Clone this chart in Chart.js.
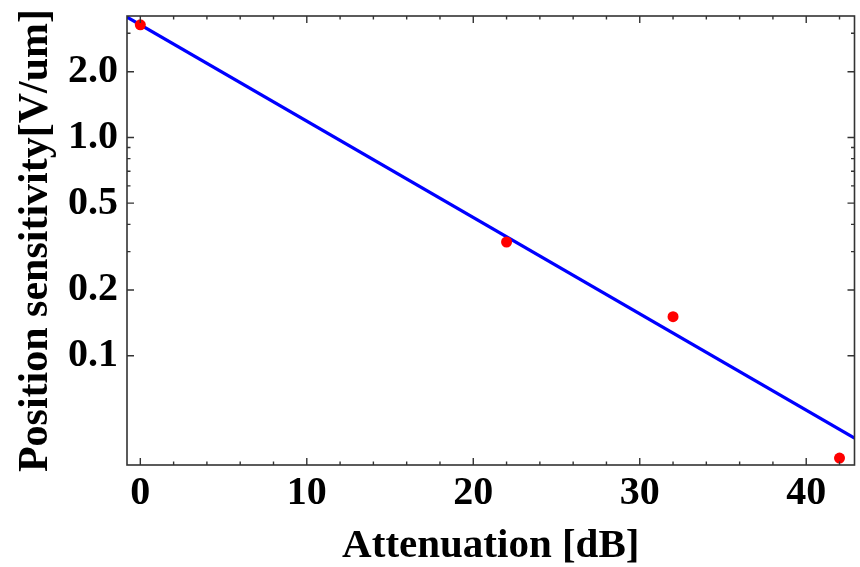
<!DOCTYPE html>
<html>
<head>
<meta charset="utf-8">
<title>Position sensitivity vs attenuation</title>
<script src="https://cdn.jsdelivr.net/npm/chart.js@4/dist/chart.umd.min.js"></script>
<style>
  html, body { margin: 0; padding: 0; background: #fff; }
  #wrap { width: 860px; height: 567px; }
</style>
</head>
<body>
<div id="wrap"><canvas id="sensGraph" width="860" height="567"></canvas></div>
<script>
// measured points (attenuation dB -> sensitivity V/um)
const attenuation = [0, 22, 32, 42]
const sensitivity = [3.28, 0.332, 0.151, 0.034]

// fitted line, end points
const fitX = [-0.8, 42.9]
const fitY = [3.56, 0.042]

const xMajorTicks = [0, 10, 20, 30, 40]
const xMinorTicks = [2, 4, 6, 8, 12, 14, 16, 18, 22, 24, 26, 28, 32, 34, 36, 38, 42]
const yMajorTicks = [0.1, 0.2, 0.5, 1, 2]
const yTickLabels = ['0.1', '0.2', '0.5', '1.0', '2.0']
const yMinorTicks = [0.3, 0.4, 0.6, 0.7, 0.8, 0.9, 3]

const serif = "'Liberation Serif', 'Times New Roman', serif"
const labelFont = { family: serif, size: 40, weight: 'bold', lineHeight: 1 }

// frame box + inward ticks on all four sides
const frameTicks = {
    id: 'frameTicks',
    afterDraw(chart) {
        const ctx = chart.ctx
        const a = chart.chartArea
        const xs = chart.scales.x
        const ys = chart.scales.y
        ctx.save()
        ctx.strokeStyle = '#333'
        ctx.lineWidth = 1.6
        ctx.strokeRect(a.left, a.top, a.right - a.left, a.bottom - a.top)
        ctx.lineWidth = 1.4
        ctx.beginPath()
        function xTick(v, len) {
            const px = xs.getPixelForValue(v)
            ctx.moveTo(px, a.bottom); ctx.lineTo(px, a.bottom - len)
            ctx.moveTo(px, a.top); ctx.lineTo(px, a.top + len)
        }
        function yTick(v, len) {
            const py = ys.getPixelForValue(v)
            ctx.moveTo(a.left, py); ctx.lineTo(a.left + len, py)
            ctx.moveTo(a.right, py); ctx.lineTo(a.right - len, py)
        }
        xMajorTicks.forEach(v => xTick(v, 7))
        xMinorTicks.forEach(v => xTick(v, 3.5))
        yMajorTicks.forEach(v => yTick(v, 7))
        yMinorTicks.forEach(v => yTick(v, 3.5))
        ctx.stroke()
        ctx.restore()
    }
}

const data = {
    datasets: [{
        type: 'line',
        label: 'fit',
        data: fitX.map((x, i) => ({ x: x, y: fitY[i] })),
        borderColor: '#0000ff',
        borderWidth: 3.2,
        pointRadius: 0,
        fill: false,
        tension: 0,
        order: 2
    }, {
        type: 'scatter',
        label: 'measured',
        data: attenuation.map((x, i) => ({ x: x, y: sensitivity[i] })),
        backgroundColor: '#ff0000',
        borderColor: '#ff0000',
        pointRadius: 5.5,
        pointBorderWidth: 0,
        order: 1
    }]
}

const config = {
    type: 'scatter',
    data,
    options: {
        responsive: false,
        animation: false,
        devicePixelRatio: 1,
        layout: { padding: { top: 16, right: 4, left: 0, bottom: 0 } },
        plugins: {
            legend: { display: false },
            tooltip: { enabled: false }
        },
        scales: {
            x: {
                type: 'linear',
                min: -0.8,
                max: 42.9,
                grid: { display: false, drawTicks: false },
                border: { display: false },
                afterBuildTicks: scale => { scale.ticks = xMajorTicks.map(v => ({ value: v })) },
                afterFit: scale => {
                    scale.height = 102
                    scale.paddingLeft = 0
                    scale.paddingRight = 0
                },
                ticks: {
                    color: '#000',
                    font: labelFont,
                    padding: 9,
                    maxRotation: 0,
                    callback: v => String(v)
                },
                title: {
                    display: true,
                    text: 'Attenuation [dB]',
                    color: '#000',
                    font: { family: serif, size: 41, weight: 'bold', lineHeight: 1 },
                    padding: { top: 0, bottom: 0 }
                }
            },
            y: {
                type: 'logarithmic',
                min: 0.0316,
                max: 3.6,
                grid: { display: false, drawTicks: false },
                border: { display: false },
                afterBuildTicks: scale => { scale.ticks = yMajorTicks.map(v => ({ value: v })) },
                afterFit: scale => {
                    scale.width = 127
                    scale.paddingTop = 0
                    scale.paddingBottom = 0
                },
                ticks: {
                    color: '#000',
                    font: labelFont,
                    padding: 9,
                    callback: (v, i) => yTickLabels[i]
                },
                title: {
                    display: true,
                    text: 'Position sensitivity[V/um]',
                    color: '#000',
                    font: { family: serif, size: 42, weight: 'bold', lineHeight: 1 },
                    padding: { top: 15, bottom: 0 }
                }
            }
        }
    },
    plugins: [frameTicks]
}

const sensChart = new Chart(document.getElementById('sensGraph'), config)
</script>
</body>
</html>
